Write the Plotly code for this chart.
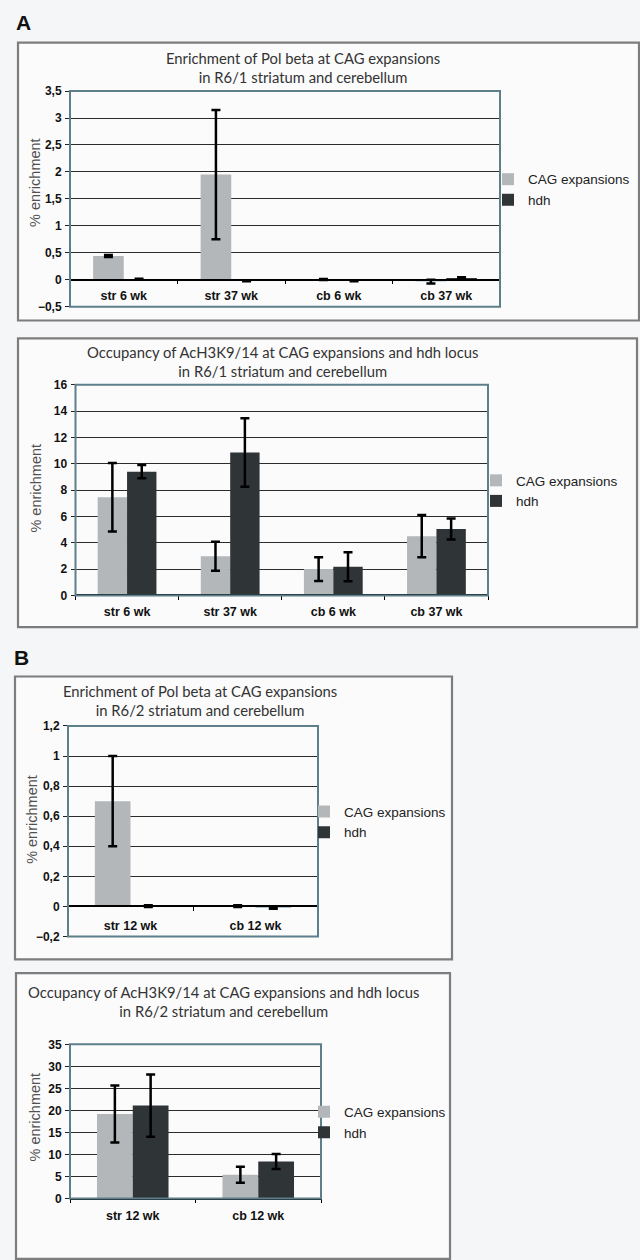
import plotly.graph_objects as go

W, H = 640, 1260

# ---------------- data ----------------
cats_A = ["str 6 wk", "str 37 wk", "cb 6 wk", "cb 37 wk"]
cats_B = ["str 12 wk", "cb 12 wk"]
series_names = ["CAG expansions", "hdh"]

# Panel A1: Pol beta, R6/1
polb_A_cag = [0.44, 1.95, 0.005, -0.035]
polb_A_cag_err = [0.02, 1.2, 0.01, 0.035]
polb_A_hdh = [0.01, -0.02, -0.02, 0.03]
polb_A_hdh_err = [0.006, 0.01, 0.01, 0.015]

# Panel A2: AcH3K9/14, R6/1
ac_A_cag = [7.45, 2.98, 2.0, 4.5]
ac_A_cag_err = [2.6, 1.1, 0.9, 1.6]
ac_A_hdh = [9.4, 10.85, 2.17, 5.05]
ac_A_hdh_err = [0.5, 2.6, 1.1, 0.8]

# Panel B1: Pol beta, R6/2
polb_B_cag = [0.70, 0.002]
polb_B_cag_err = [0.30, 0.006]
polb_B_hdh = [0.002, -0.01]
polb_B_hdh_err = [0.006, 0.006]

# Panel B2: AcH3K9/14, R6/2
ac_B_cag = [19.2, 5.4]
ac_B_cag_err = [6.45, 1.8]
ac_B_hdh = [21.1, 8.4]
ac_B_hdh_err = [7.05, 1.7]

titles = [
    "Enrichment of Pol beta at CAG expansions<br>in R6/1 striatum and cerebellum",
    "Occupancy of AcH3K9/14 at CAG expansions and hdh locus<br>in R6/1 striatum and cerebellum",
    "Enrichment of Pol beta at CAG expansions<br>in R6/2 striatum and cerebellum",
    "Occupancy of AcH3K9/14 at CAG expansions and hdh locus<br>in R6/2 striatum and cerebellum",
]
y_title = "% enrichment"

# ---------------- style ----------------
C_CAG = "#b3b7ba"
C_HDH = "#2f3437"
C_NEG = "#a9c4d2"
BORDER = "#5d7f8a"
GRID = "#2b2b2b"
BOX = "#7d7d7d"
PAPER = "#f4f6f8"
BOXFILL = "#fbfbfc"

def px_x(p):
    return p / W

def px_y(p):
    return 1 - p / H

panels = [
    dict(cats=cats_A, data=(polb_A_cag, polb_A_cag_err, polb_A_hdh, polb_A_hdh_err),
         plot=(70, 500, 85, 303), yr=(-0.5, 3.5), dtick=0.5, box=(18, 639, 36, 317),
         title_xy=(303, 61.5), leg=(488, 185), ytitle_xy=(35, 178), lblstand=5),
    dict(cats=cats_A, data=(ac_A_cag, ac_A_cag_err, ac_A_hdh, ac_A_hdh_err),
         plot=(75.5, 488, 382, 595), yr=(0, 16), dtick=2, box=(18, 637, 335, 627),
         title_xy=(282, 358.5), leg=(476, 489.5), ytitle_xy=(36, 487), lblstand=5),
    dict(cats=cats_B, data=(polb_B_cag, polb_B_cag_err, polb_B_hdh, polb_B_hdh_err),
         plot=(68, 318, 727, 940), yr=(-0.2, 1.2), dtick=0.2, box=(15, 452, 677, 963),
         title_xy=(200, 701.5), leg=(304, 824.5), ytitle_xy=(32, 822), lblstand=8),
    dict(cats=cats_B, data=(ac_B_cag, ac_B_cag_err, ac_B_hdh, ac_B_hdh_err),
         plot=(70, 321, 1049, 1205), yr=(0, 35), dtick=5, box=(16, 450, 977, 1266),
         title_xy=(223, 1006), leg=(304, 1128), ytitle_xy=(35, 1123), lblstand=6),
]

fig = go.Figure()
layout = dict(
    width=W, height=H, margin=dict(l=0, r=0, t=0, b=0),
    paper_bgcolor=PAPER, plot_bgcolor="white",
    barmode="group", bargap=0.43, bargroupgap=0,
    separators=",.",
    shapes=[], annotations=[],
)

for i, p in enumerate(panels):
    n = "" if i == 0 else str(i + 1)
    xa, ya = "x" + n, "y" + n
    leg = "legend" + n
    x0, x1, y0, y1 = p["plot"]
    ydom = [px_y(y1), px_y(y0)]
    xdom = [px_x(x0), px_x(x1)]
    yr = p["yr"]
    zero_pos = ydom[0] + (0 - yr[0]) / (yr[1] - yr[0]) * (ydom[1] - ydom[0])

    cag, cag_err, hdh, hdh_err = p["data"]
    for name, vals, errs, col in ((series_names[0], cag, cag_err, C_CAG),
                                   (series_names[1], hdh, hdh_err, C_HDH)):
        fig.add_trace(go.Bar(
            x=p["cats"], y=vals, name=name, xaxis=xa, yaxis=ya, legend=leg,
            marker=dict(color=[C_NEG if v < 0 else col for v in vals], line=dict(width=0)),
            error_y=dict(type="data", array=errs, visible=True, color="black",
                         thickness=2.5, width=4.5),
            hoverinfo="x+y",
        ))

    layout["xaxis" + n] = dict(
        domain=xdom, anchor="free", position=zero_pos, type="category",
        showline=True, linecolor="black", linewidth=1.5,
        ticks="outside", tickson="boundaries", ticklen=4, tickcolor="black", tickwidth=1,
        showgrid=False, zeroline=False, ticklabelstandoff=p["lblstand"],
        tickfont=dict(family="Liberation Sans", size=12.5, color="#111", weight="bold"),
        fixedrange=True,
    )
    layout["yaxis" + n] = dict(
        domain=ydom, anchor=xa, range=list(yr), dtick=p["dtick"], tick0=0,
        showline=False, ticks="outside", ticklen=4, tickcolor="#222", tickwidth=1,
        showgrid=True, gridcolor=GRID, gridwidth=1.4,
        zeroline=True, zerolinecolor="black", zerolinewidth=1.5,
        tickfont=dict(family="Liberation Sans", size=12, color="#111", weight="bold"),
        ticklabelstandoff=1,
        fixedrange=True,
    )
    layout[leg] = dict(
        x=px_x(p["leg"][0]), y=px_y(p["leg"][1]), xanchor="left", yanchor="middle",
        bgcolor="rgba(0,0,0,0)", itemwidth=30, tracegroupgap=0,
        font=dict(family="Liberation Sans", size=13.5, color="#222"),
    )

    # outer panel box
    bx0, bx1, by0, by1 = p["box"]
    layout["shapes"].append(dict(
        type="rect", xref="paper", yref="paper", layer="below",
        x0=px_x(bx0), x1=px_x(bx1), y0=px_y(by1), y1=px_y(by0),
        line=dict(color=BOX, width=2.2), fillcolor=BOXFILL))
    # plot-area frame
    layout["shapes"].append(dict(
        type="rect", xref=xa + " domain", yref=ya + " domain", layer="above",
        x0=0, x1=1, y0=0, y1=1, line=dict(color=BORDER, width=2)))

    tx, ty = p["title_xy"]
    layout["annotations"].append(dict(
        text=titles[i], xref="paper", yref="paper", x=px_x(tx), y=px_y(ty),
        xanchor="center", yanchor="middle", showarrow=False, align="center",
        font=dict(family="Lato", size=14.8, color="#333")))

    yx, yy = p["ytitle_xy"]
    layout["annotations"].append(dict(
        text=y_title, xref="paper", yref="paper", x=px_x(yx), y=px_y(yy),
        xanchor="center", yanchor="middle", showarrow=False, textangle=-90,
        font=dict(family="Liberation Sans", size=14.5, color="#505050")))

layout["annotations"].append(dict(
    text="<b>A</b>", xref="paper", yref="paper", x=px_x(14), y=px_y(16),
    xanchor="left", yanchor="middle", showarrow=False,
    font=dict(family="Liberation Sans", size=21, color="#111")))
layout["annotations"].append(dict(
    text="<b>B</b>", xref="paper", yref="paper", x=px_x(12), y=px_y(658),
    xanchor="left", yanchor="middle", showarrow=False,
    font=dict(family="Liberation Sans", size=21, color="#111")))

fig.update_layout(**layout)
fig.write_html(
    "out.html",
    config={"displayModeBar": False},
    post_script="document.body.style.margin='0';document.body.style.overflow='hidden';",
)
